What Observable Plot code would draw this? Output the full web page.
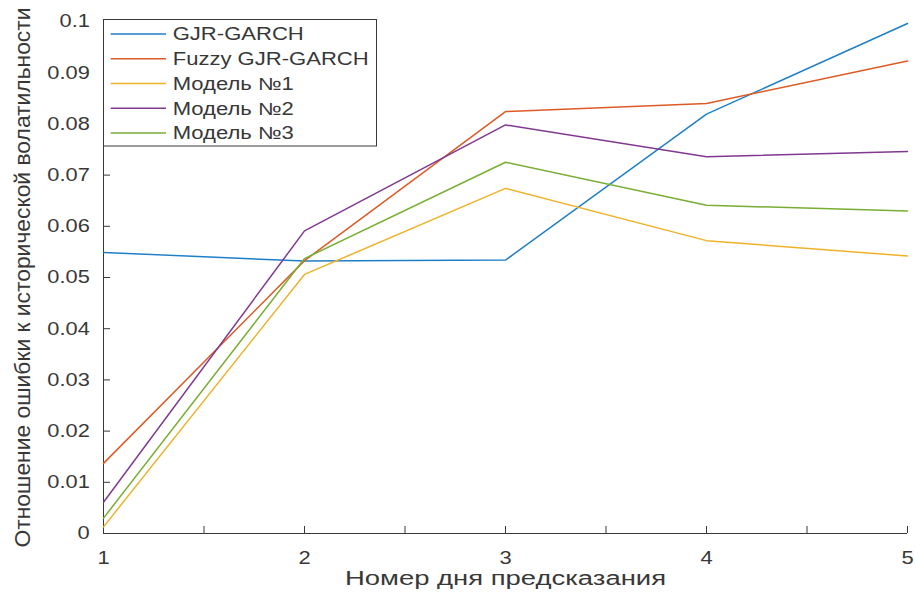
<!DOCTYPE html>
<html>
<head>
<meta charset="utf-8">
<script src="https://cdn.jsdelivr.net/npm/d3@7"></script>
<script src="https://cdn.jsdelivr.net/npm/@observablehq/plot@0.6"></script>
<style>
  html, body { margin: 0; padding: 0; background: #fff; }
</style>
</head>
<body>
<div id="chart"></div>
<script>
const days = [1, 2, 3, 4, 5];
const seriesNames = ["GJR-GARCH", "Fuzzy GJR-GARCH", "Модель №1", "Модель №2", "Модель №3"];
const gjrGarch      = [0.0549, 0.0532, 0.0534, 0.0819, 0.0996];
const fuzzyGjrGarch = [0.0137, 0.0533, 0.0824, 0.0840, 0.0923];
const model1        = [0.0013, 0.0506, 0.0674, 0.0572, 0.0542];
const model2        = [0.0061, 0.0591, 0.0798, 0.0736, 0.0746];
const model3        = [0.0030, 0.0537, 0.0725, 0.0641, 0.0630];
const seriesValues = [gjrGarch, fuzzyGjrGarch, model1, model2, model3];
const seriesColors = ["#1f7fc6", "#dc5a25", "#eeb22a", "#803891", "#78ae33"];
const yTicks = [0, 0.01, 0.02, 0.03, 0.04, 0.05, 0.06, 0.07, 0.08, 0.09, 0.1];
const xTicks = [1, 2, 3, 4, 5];
const xMinorTicks = [1, 1.5, 2, 2.5, 3, 3.5, 4, 4.5, 5];
const xLabel = "Номер дня предсказания";
const yLabel = "Отношение ошибки к исторической волатильности";

const rows = [];
seriesValues.forEach((vals, i) => vals.forEach((v, j) => rows.push({series: seriesNames[i], day: days[j], value: v})));

const FONT = "'Liberation Sans', Arial, sans-serif";
const INK = "#383838";

const plot = Plot.plot({
  width: 915,
  height: 601,
  marginLeft: 103,
  marginRight: 8,
  marginTop: 21,
  marginBottom: 68,
  style: {fontFamily: FONT, fontSize: "18.5px", color: INK, background: "#fff"},
  x: {domain: [1, 5]},
  y: {domain: [0, 0.1]},
  color: {domain: seriesNames, range: seriesColors},
  marks: [
    Plot.axisY(yTicks, {tickSize: -7, tickPadding: 20.7, tickFormat: d => String(+d.toFixed(2)), label: null}),
    Plot.axisX(xMinorTicks, {tickSize: -7, tickPadding: 0, tickFormat: () => "", label: null}),
    Plot.axisX(xTicks, {tickSize: 0, tickPadding: 17, tickFormat: d => String(d), label: null}),
    Plot.ruleX([1], {stroke: INK}),
    Plot.ruleY([0], {stroke: INK}),
    Plot.line(rows, {x: "day", y: "value", stroke: "series", strokeWidth: 1.5}),
    Plot.text([xLabel], {text: d => d, frameAnchor: "bottom", dy: 45.3, lineAnchor: "middle", fontSize: 19.5, fill: INK}),
    Plot.text([yLabel], {text: d => d, frameAnchor: "left", dx: -80.3, rotate: -90, lineAnchor: "middle", fontSize: 22, fill: INK})
  ]
});

document.getElementById("chart").append(plot);
const svg = d3.select(plot);

function stretch(sel, k) {
  sel.each(function () {
    const w = this.getComputedTextLength();
    if (w > 0) {
      this.setAttribute("textLength", (w * k).toFixed(1));
      this.setAttribute("lengthAdjust", "spacingAndGlyphs");
    }
  });
}
stretch(svg.selectAll('g[aria-label="y-axis tick label"] text'), 1.18);
stretch(svg.selectAll('g[aria-label="x-axis tick label"] text'), 1.18);
svg.selectAll("text").filter(function () { return this.textContent === xLabel; })
  .attr("text-anchor", "start").attr("x", -160.5)
  .attr("textLength", 321).attr("lengthAdjust", "spacingAndGlyphs");
svg.selectAll("text").filter(function () { return this.textContent === yLabel; })
  .attr("text-anchor", "start").attr("x", -270)
  .attr("textLength", 540).attr("lengthAdjust", "spacingAndGlyphs");

// Legend box (top-left, inside the axes)
const lg = svg.append("g").attr("font-family", FONT).attr("font-size", 17.5)
  .attr("fill", INK).attr("text-anchor", "start");
lg.append("rect").attr("x", 103.5).attr("y", 19.5).attr("width", 273).attr("height", 126.5)
  .attr("fill", "#fff").attr("stroke", INK).attr("stroke-width", 1);
seriesNames.forEach((name, i) => {
  const y = 34 + i * 24.75;
  lg.append("line").attr("x1", 110.7).attr("x2", 166).attr("y1", y).attr("y2", y)
    .attr("stroke", seriesColors[i]).attr("stroke-width", 1.5);
  lg.append("text").attr("x", 172.7).attr("y", y).attr("dy", "0.36em")
    .attr("text-anchor", "start").text(name);
});
stretch(lg.selectAll("text"), 1.26);
</script>
</body>
</html>
